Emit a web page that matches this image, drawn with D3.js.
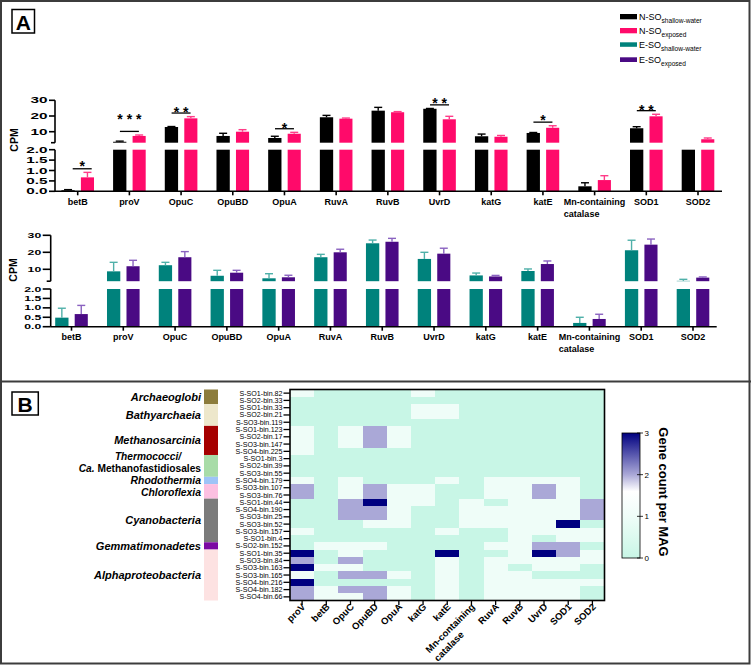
<!DOCTYPE html>
<html><head><meta charset="utf-8">
<script src="https://cdn.jsdelivr.net/npm/d3@7"></script>
<style>body{margin:0;background:#fff}svg{display:block;font-family:"Liberation Sans",Arial,Helvetica,sans-serif}</style>
</head><body><svg id="c" width="751" height="665"></svg>
<script>
// ---------------- DATA ----------------
const genesA = ["betB","proV","OpuC","OpuBD","OpuA","RuvA","RuvB","UvrD","katG","katE","Mn-containing catalase","SOD1","SOD2"];
const nsoShallow    = [0.05, 3.6, 13.0, 7.3, 6.0, 19.2, 23.4, 24.6, 7.1, 9.2, 0.24, 12.2, 2.5];
const nsoShallowErr = [0.03, 0.4, 0.3, 1.7, 1.1, 1.2, 2.1, 0.2, 1.4, 0.3, 0.17, 1.0, 0];
const nsoExposed    = [0.67, 7.3, 18.5, 10.0, 8.7, 18.3, 22.4, 17.9, 6.8, 12.5, 0.54, 19.8, 5.2];
const nsoExposedErr = [0.24, 0.6, 1.1, 1.3, 0.9, 0.4, 0.4, 1.9, 0.8, 1.3, 0.21, 1.3, 0.8];
const esoShallow    = [0.48, 8.8, 12.4, 6.2, 4.7, 17.1, 25.3, 16.1, 6.4, 9.0, 0.20, 21.2, 3.2];
const esoShallowErr = [0.50, 5.3, 1.7, 3.2, 2.7, 1.7, 1.9, 3.9, 1.4, 1.2, 0.30, 5.9, 0.9];
const esoExposed    = [0.67, 11.8, 17.1, 8.0, 5.3, 20.0, 26.2, 19.2, 5.8, 13.1, 0.41, 24.5, 5.1];
const esoExposedErr = [0.46, 3.5, 3.3, 1.4, 1.2, 1.8, 2.0, 3.2, 0.6, 1.8, 0.25, 3.3, 0.4];
const upperTicks = [10, 20, 30];
const lowerTicks = [0, 0.5, 1, 1.5, 2];
const lowerTickLabels = ["0.0","0.5","1.0","1.5","2.0"];
const sigGenes  = ["betB","proV","OpuC","OpuA","UvrD","katE","SOD1"];
const sigLabels = ["*","* * *","* *","*","* *","*","* *"];
const legendMain = ["N-SO","N-SO","E-SO","E-SO"];
const legendSub  = ["shallow-water","exposed","shallow-water","exposed"];

const genesB = ["proV","betB","OpuC","OpuBD","OpuA","katG","katE","Mn-containing catalase","RuvA","RuvB","UvrD","SOD1","SOD2"];
const mags = ["S-SO1-bin.82","S-SO2-bin.33","S-SO1-bin.33","S-SO2-bin.21","S-SO3-bin.119","S-SO1-bin.123","S-SO2-bin.17","S-SO3-bin.147","S-SO4-bin.225","S-SO1-bin.3","S-SO2-bin.39","S-SO3-bin.55","S-SO4-bin.179","S-SO3-bin.107","S-SO3-bin.76","S-SO1-bin.44","S-SO4-bin.190","S-SO3-bin.25","S-SO3-bin.52","S-SO3-bin.157","S-SO1-bin.4","S-SO2-bin.152","S-SO1-bin.35","S-SO3-bin.84","S-SO3-bin.163","S-SO3-bin.165","S-SO4-bin.216","S-SO4-bin.182","S-SO4-bin.66"];
const geneCounts = [
 [1,0,0,0,0,1,0,0,0,0,0,0,0],
 [0,0,0,0,0,0,0,0,0,0,0,0,0],
 [0,0,0,0,0,1,1,0,0,0,0,0,0],
 [0,0,0,0,0,1,1,0,0,0,0,0,0],
 [0,0,0,0,0,0,0,0,0,0,0,0,0],
 [1,0,1,2,1,0,0,0,0,0,0,0,0],
 [1,0,1,2,1,0,0,0,0,0,0,0,0],
 [1,0,1,2,1,0,0,0,0,0,0,0,0],
 [1,0,0,0,0,0,0,0,0,0,0,0,0],
 [0,0,0,0,0,0,0,0,0,0,0,0,0],
 [0,0,0,0,0,0,0,0,0,0,0,0,0],
 [0,0,0,0,0,0,0,0,0,0,0,0,0],
 [1,0,1,0,0,0,1,0,1,1,1,1,0],
 [2,0,1,2,1,1,0,0,1,1,2,1,0],
 [2,0,1,2,1,1,0,0,1,1,2,1,0],
 [0,0,2,3,1,1,0,1,0,1,1,1,2],
 [0,0,2,2,1,0,0,1,1,1,1,1,2],
 [0,0,2,2,1,0,0,1,1,1,1,1,2],
 [0,0,0,1,1,0,0,1,1,1,1,3,0],
 [1,0,0,0,0,0,1,0,0,1,1,1,1],
 [0,0,0,0,0,0,0,0,0,1,0,1,1],
 [0,1,1,1,0,0,0,0,1,1,2,2,0],
 [3,0,1,0,0,0,3,0,0,1,3,2,1],
 [2,0,2,0,0,0,1,0,1,1,1,1,1],
 [3,1,1,0,0,0,1,0,1,0,1,1,0],
 [1,0,2,2,1,0,1,0,1,1,0,0,0],
 [3,0,0,0,0,0,1,0,1,1,1,1,1],
 [2,1,2,2,1,0,1,0,1,1,1,1,0],
 [2,1,1,2,1,0,1,0,1,1,1,1,0]
];
const taxa = ["Archaeoglobi","Bathyarchaeia","Methanosarcinia","Thermococci/|Ca. Methanofastidiosales","Rhodothermia","Chloroflexia","Cyanobacteria","Gemmatimonadetes","Alphaproteobacteria"];
const taxaSize = [2,3,4,3,1,2,6,1,7];
const taxaColor = ["#8c7c3c","#ede7cb","#a50000","#a8dca8","#9ec4f7","#fcc0e1","#7b7b7b","#7b0aa3","#fde2e2"];
const cbTicks = [0,1,2,3];

// ---------------- DRAW ----------------
const svg = d3.select('#c');

svg.append('rect').attr('x',1).attr('y',1).attr('width',748.5).attr('height',662.5)
  .attr('fill','none').attr('stroke','#3c3c3c').attr('stroke-width',2);
svg.append('line').attr('x1',0).attr('x2',751).attr('y1',381.5).attr('y2',381.5)
  .attr('stroke','#3c3c3c').attr('stroke-width',2);

function panelLabel(x,y,w,h,t,bx,by){
  svg.append('rect').attr('x',x).attr('y',y).attr('width',w).attr('height',h)
    .attr('fill','#fff').attr('stroke','#000').attr('stroke-width',1.5);
  svg.append('text').attr('x',bx).attr('y',by).attr('text-anchor','middle')
    .attr('font-size',21).attr('font-weight','bold').text(t);
}
panelLabel(12,9.5,22.5,23.5,'A',23.3,30);
panelLabel(12,392,26.3,23,'B',25.2,411.5);

function barChart(o){
  const g = svg.append('g');
  const x = d3.scalePoint().domain(genesA).range(o.xr);
  const yU = d3.scaleLinear().domain([3,30]).range(o.yu);
  const yL = d3.scaleLinear().domain([0,2]).range(o.yl);
  const series = [{v:o.v1,e:o.e1,c:o.c1,ec:o.ec1,d0:-16.3,d1:-3},{v:o.v2,e:o.e2,c:o.c2,ec:o.ec2,d0:3.2,d1:16.3}];
  series.forEach(s=>{
    genesA.forEach((name,i)=>{
      const v=s.v[i], e=s.e[i], cx=x(name);
      const x0=cx+s.d0, w=s.d1-s.d0, mx=x0+w/2;
      const lt=yL(Math.min(v,2));
      g.append('rect').attr('x',x0).attr('y',lt).attr('width',w).attr('height',yL(0)-lt).attr('fill',s.c);
      if(v>3) g.append('rect').attr('x',x0).attr('y',yU(v)).attr('width',w).attr('height',yU(3)-yU(v)).attr('fill',s.c);
      let ya=null,yb=null;
      if(e>0){
        if(v>3){ya=yU(v);yb=yU(v+e);}
        else if(v<2){ya=yL(v);yb=yL(Math.min(v+e,2));}
      }
      if(ya!==null){
        g.append('line').attr('x1',mx).attr('x2',mx).attr('y1',ya).attr('y2',yb).attr('stroke',s.ec).attr('stroke-width',1.4);
        g.append('line').attr('x1',mx-4).attr('x2',mx+4).attr('y1',yb).attr('y2',yb).attr('stroke',s.ec).attr('stroke-width',1.4);
      }
    });
  });
  const ax=o.ax;
  function ln(x1,y1,x2,y2){g.append('line').attr('x1',x1).attr('y1',y1).attr('x2',x2).attr('y2',y2).attr('stroke','#000').attr('stroke-width',1.6);}
  ln(ax,yU(3),ax,yU(30)); ln(ax,yL(0),ax,yL(2));
  ln(ax-4,yU(3),ax,yU(3));
  function tl(y,t){
    ln(ax-o.tick,y,ax,y);
    g.append('text').attr('transform',`translate(${ax-o.tick-1.5},${y+o.fs*0.36}) scale(${o.sx},1)`)
      .attr('text-anchor','end').attr('font-size',o.fs).attr('font-weight','bold').text(t);
  }
  upperTicks.forEach(t=>tl(yU(t),String(t)));
  lowerTicks.forEach((t,i)=>tl(yL(t),lowerTickLabels[i]));
  ln(ax,yL(0),o.axEnd,yL(0));
  genesA.forEach(name=>{
    const cx=x(name);
    ln(cx,yL(0),cx,yL(0)+4);
    if(name.indexOf(' ')>0){
      const parts=name.split(' ');
      const t=g.append('text').attr('font-size',9).attr('font-weight','bold').attr('x',cx-31).attr('y',o.ly).text(parts[0]);
      const len=t.node().getComputedTextLength();
      t.attr('x',cx-len/2);
      g.append('text').attr('font-size',9).attr('font-weight','bold').attr('x',cx-len/2).attr('y',o.ly+11.5).text(parts[1]);
    } else {
      g.append('text').attr('font-size',9).attr('font-weight','bold').attr('x',cx).attr('y',o.ly).attr('text-anchor','middle').text(name);
    }
  });
  g.append('text').attr('transform',`translate(${o.cpmX},${o.cpmY}) rotate(-90)`).attr('text-anchor','middle')
    .attr('font-size',10.5).attr('font-weight','bold').text('CPM');
  return {x,yU,yL,g};
}

const chartTop = barChart({v1:nsoShallow,e1:nsoShallowErr,v2:nsoExposed,e2:nsoExposedErr,c1:'#000000',c2:'#ff0a6a',ec1:'#000000',ec2:'#ff3c88',
  xr:[77.7,698],yu:[142.7,100.3],yl:[191.3,149.7],ax:55,axEnd:722,tick:6,fs:8.5,sx:1.8,ly:205,cpmX:18.3,cpmY:140});
const chartBot = barChart({v1:esoShallow,e1:esoShallowErr,v2:esoExposed,e2:esoExposedErr,c1:'#00827c',c2:'#4a0a84',ec1:'#4fb0a9',ec2:'#8a62c0',
  xr:[71.5,693],yu:[281.2,235.3],yl:[326.7,289],ax:50.7,axEnd:716.7,tick:8,fs:7,sx:1.75,ly:340,cpmX:16.7,cpmY:270});

// significance
const starGap = {betB:6,proV:15.5,OpuC:4.7,OpuA:4.3,UvrD:5.3,katE:5,SOD1:4};
const lineShift = {betB:4.5};
sigGenes.forEach((gname,i)=>{
  const k=genesA.indexOf(gname);
  const a=nsoShallow[k]+nsoShallowErr[k], b=nsoExposed[k]+nsoExposedErr[k];
  const m=Math.max(a,b);
  const yTop = m>3 ? chartTop.yU(m) : chartTop.yL(m);
  const ly = yTop-3.6;
  const cxp = chartTop.x(gname)+(lineShift[gname]||0);
  svg.append('line').attr('x1',cxp-9.5).attr('x2',cxp+9.5).attr('y1',ly).attr('y2',ly).attr('stroke','#000').attr('stroke-width',1.3);
  svg.append('text').attr('x',cxp).attr('y',ly-starGap[gname]+8.2).attr('text-anchor','middle')
    .attr('font-size',14).attr('font-weight','bold').text(sigLabels[i]);
});

// legend
const legColors=['#000000','#ff0a6a','#00827c','#4a0a84'];
const legY=[14,28,42.3,57.3], legH=[5.3,5.3,4.5,4.7], legBase=[20,34,48.3,63.3];
legendMain.forEach((t,i)=>{
  svg.append('rect').attr('x',620).attr('y',legY[i]).attr('width',17).attr('height',legH[i]).attr('fill',legColors[i]);
  const tx=svg.append('text').attr('x',639).attr('y',legBase[i]).attr('font-size',9);
  tx.append('tspan').text(t);
  tx.append('tspan').attr('font-size',6.6).attr('dy',2.7).text(legendSub[i]);
});

// ---------------- PANEL B ----------------
const colX = d3.scaleBand().domain(genesB).range([290,604.5]);
const rowY = d3.scaleBand().domain(mags).range([389.5,600.5]);
const color = d3.scaleLinear().domain([0,1,1.6,2,3]).range(['#c8f6e6','#effdf8','#ffffff','#aaa8d7','#000080']);
const hb = svg.append('g').attr('shape-rendering','crispEdges');
mags.forEach((m,r)=>{
  genesB.forEach((gname,c)=>{
    hb.append('rect').attr('x',colX(gname)).attr('y',rowY(m)).attr('width',colX.bandwidth()+0.3).attr('height',rowY.bandwidth()+0.3)
      .attr('fill',color(geneCounts[r][c]));
  });
});
svg.append('rect').attr('x',290).attr('y',389.5).attr('width',314.5).attr('height',211)
  .attr('fill','none').attr('stroke','#000').attr('stroke-width',1.6);
mags.forEach(m=>{
  const y=rowY(m)+rowY.bandwidth()/2;
  svg.append('line').attr('x1',283.5).attr('x2',290).attr('y1',y).attr('y2',y).attr('stroke','#000').attr('stroke-width',1.3);
  svg.append('text').attr('x',282.5).attr('y',y+2.5).attr('text-anchor','end').attr('font-size',7.1).text(m);
});
genesB.forEach(gname=>{
  const x=colX(gname)+colX.bandwidth()/2;
  svg.append('line').attr('x1',x).attr('x2',x).attr('y1',600.5).attr('y2',605).attr('stroke','#000').attr('stroke-width',1.3);
  const g=svg.append('g').attr('transform',`translate(${x+4},607.5) rotate(-45)`);
  if(gname.indexOf(' ')>0){
    const parts=gname.split(' ');
    const t=g.append('text').attr('text-anchor','end').attr('font-size',9.5).attr('font-weight','bold').text(parts[0]);
    const len=t.node().getComputedTextLength();
    g.append('text').attr('x',-len).attr('y',12).attr('font-size',9.5).attr('font-weight','bold').text(parts[1]);
  } else {
    g.append('text').attr('text-anchor','end').attr('font-size',9.5).attr('font-weight','bold').text(gname);
  }
});

// taxa bar + labels
const labelDy = {Rhodothermia:3.5, Chloroflexia:4.9};
let start=0;
taxa.forEach((t,i)=>{
  const y0=rowY(mags[start]), y1=rowY(mags[start+taxaSize[i]-1])+rowY.bandwidth();
  svg.append('rect').attr('x',204).attr('y',y0).attr('width',14).attr('height',y1-y0).attr('fill',taxaColor[i]);
  const mid=(y0+y1)/2;
  if(t.indexOf('|')>0){
    const p=t.split('|');
    svg.append('text').attr('x',148).attr('y',mid-5.6).attr('text-anchor','middle').attr('font-size',10.2)
      .attr('font-weight','bold').attr('font-style','italic').text(p[0]);
    const tt=svg.append('text').attr('x',201).attr('y',mid+6.2).attr('text-anchor','end').attr('font-size',10.2).attr('font-weight','bold');
    tt.append('tspan').attr('font-style','italic').text(p[1].split(' ')[0]+' ');
    tt.append('tspan').text(p[1].split(' ').slice(1).join(' '));
  } else {
    const dy = labelDy[t]!==undefined ? labelDy[t] : 3.9;
    const fs = labelDy[t]!==undefined ? 10.4 : 11;
    svg.append('text').attr('x',201).attr('y',mid+dy).attr('text-anchor','end').attr('font-size',fs)
      .attr('font-weight','bold').attr('font-style','italic').text(t);
  }
  start+=taxaSize[i];
});

// colorbar
const defs=svg.append('defs');
const grad=defs.append('linearGradient').attr('id','cb').attr('x1',0).attr('y1',1).attr('x2',0).attr('y2',0);
[0,0.5,1,1.3,1.6,1.8,2,2.5,3].forEach(v=>grad.append('stop').attr('offset',v/3).attr('stop-color',color(v)));
const cbY=d3.scaleLinear().domain([0,3]).range([558,433]);
svg.append('rect').attr('x',622).attr('y',433).attr('width',18).attr('height',125).attr('fill','url(#cb)')
  .attr('stroke','#000').attr('stroke-width',0.8);
cbTicks.forEach(t=>{
  svg.append('line').attr('x1',637).attr('x2',643).attr('y1',cbY(t)).attr('y2',cbY(t)).attr('stroke','#000').attr('stroke-width',0.8);
  svg.append('text').attr('x',644.5).attr('y',cbY(t)+3).attr('font-size',8).text(t);
});
svg.append('text').attr('transform','translate(659,492) rotate(90)').attr('text-anchor','middle')
  .attr('font-size',13).attr('font-weight','bold').text('Gene count per MAG');
</script></body></html>
